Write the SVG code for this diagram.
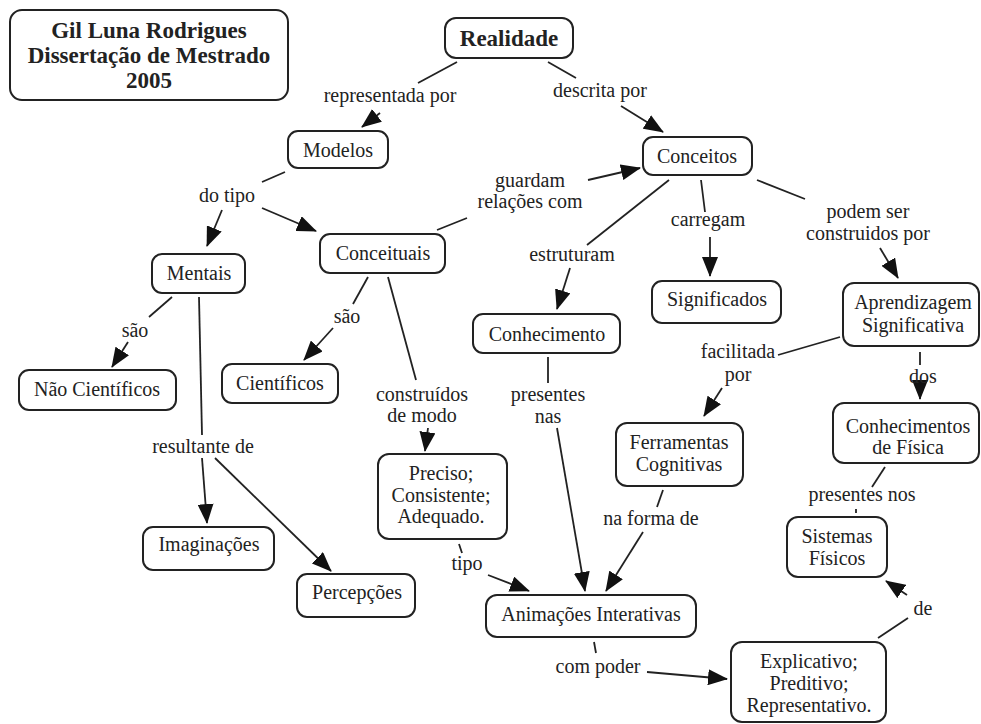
<svg xmlns="http://www.w3.org/2000/svg" width="981" height="724" viewBox="0 0 981 724">
<defs>
<marker id="ah" viewBox="0 0 20 16" refX="19" refY="8" markerWidth="20" markerHeight="16" markerUnits="userSpaceOnUse" orient="auto">
<path d="M0,0 L20,8 L0,16 Z" fill="#111"/>
</marker>
<style>
.box{fill:#fff;stroke:#222;stroke-width:2}
.t{font-family:"Liberation Serif","Times New Roman",serif;font-size:20px;fill:#222;text-anchor:middle}
.b{font-weight:bold;font-size:23px}
.c line{stroke:#222;stroke-width:1.8}
.c .a{marker-end:url(#ah)}
</style>
</defs>
<rect width="981" height="724" fill="#fff"/>
<g class="c" id="connectors">
<line x1="457" y1="62" x2="418" y2="83"/>
<line class="a" x1="380" y1="113" x2="362" y2="127"/>
<line x1="548" y1="62" x2="576" y2="78"/>
<line class="a" x1="621" y1="106" x2="663" y2="132"/>
<line x1="285" y1="172" x2="262" y2="182"/>
<line class="a" x1="222" y1="210" x2="207" y2="246"/>
<line class="a" x1="262" y1="208" x2="316" y2="231"/>
<line x1="437" y1="230" x2="467" y2="218"/>
<line class="a" x1="588" y1="180" x2="640" y2="168"/>
<line x1="669" y1="180" x2="587" y2="245"/>
<line class="a" x1="570" y1="268" x2="557" y2="309"/>
<line x1="701" y1="180" x2="705" y2="212"/>
<line class="a" x1="710" y1="237" x2="710" y2="276"/>
<line x1="757" y1="180" x2="805" y2="199"/>
<line class="a" x1="880" y1="248" x2="898" y2="278"/>
<line x1="172" y1="297" x2="149" y2="317"/>
<line class="a" x1="128" y1="342" x2="112" y2="367"/>
<line x1="199" y1="297" x2="202" y2="435"/>
<line class="a" x1="202" y1="458" x2="207" y2="523"/>
<line class="a" x1="215" y1="458" x2="331" y2="571"/>
<line x1="368" y1="277" x2="353" y2="304"/>
<line class="a" x1="333" y1="328" x2="304" y2="360"/>
<line x1="388" y1="277" x2="416" y2="380"/>
<line class="a" x1="428" y1="428" x2="425" y2="451"/>
<line x1="459" y1="544" x2="462" y2="553"/>
<line class="a" x1="488" y1="575" x2="529" y2="591"/>
<line x1="548" y1="357" x2="548" y2="383"/>
<line class="a" x1="557" y1="428" x2="585" y2="591"/>
<line x1="840" y1="337" x2="778" y2="355"/>
<line class="a" x1="722" y1="388" x2="704" y2="416"/>
<line x1="920" y1="352" x2="920" y2="365"/>
<line class="a" x1="920" y1="384" x2="920" y2="399"/>
<line x1="885" y1="467" x2="872" y2="487"/>
<line x1="856" y1="509" x2="856" y2="513"/>
<line x1="663" y1="490" x2="657" y2="507"/>
<line class="a" x1="643" y1="532" x2="606" y2="591"/>
<line x1="594" y1="642" x2="596" y2="653"/>
<line class="a" x1="647" y1="672" x2="727" y2="679"/>
<line x1="878" y1="638" x2="908" y2="618"/>
<line class="a" x1="907" y1="595" x2="886" y2="581"/>
</g>
<g id="labels" class="t">
<text x="390" y="102">representada por</text>
<text x="600" y="97">descrita por</text>
<text x="227" y="202">do tipo</text>
<text x="530" y="187">guardam</text>
<text x="530" y="208">relações com</text>
<text x="572" y="261">estruturam</text>
<text x="708" y="226">carregam</text>
<text x="868" y="218">podem ser</text>
<text x="868" y="240">construidos por</text>
<text x="135" y="337">são</text>
<text x="203" y="453">resultante de</text>
<text x="347" y="323">são</text>
<text x="422" y="401">construídos</text>
<text x="422" y="422">de modo</text>
<text x="467" y="570">tipo</text>
<text x="548" y="401">presentes</text>
<text x="548" y="423">nas</text>
<text x="738" y="358">facilitada</text>
<text x="738" y="381">por</text>
<text x="923" y="383">dos</text>
<text x="862" y="501">presentes nos</text>
<text x="651" y="525">na forma de</text>
<text x="598" y="673">com poder</text>
<text x="923" y="615">de</text>
</g>
<g id="title"><rect class="box" x="10" y="10" width="278" height="90" rx="12"/>
<text class="t b" x="149" y="38">Gil Luna Rodrigues</text>
<text class="t b" x="149" y="63">Dissertação de Mestrado</text>
<text class="t b" x="149" y="88">2005</text></g>
<g id="realidade"><rect class="box" x="445" y="18" width="128" height="40" rx="11"/><text class="t b" x="509" y="46">Realidade</text></g>
<g id="modelos"><rect class="box" x="288" y="131" width="100" height="37" rx="10"/><text class="t" x="338" y="157">Modelos</text></g>
<g id="conceitos"><rect class="box" x="643" y="137" width="109" height="38" rx="10"/><text class="t" x="697" y="163">Conceitos</text></g>
<g id="conceituais"><rect class="box" x="320" y="234" width="125" height="39" rx="10"/><text class="t" x="383" y="260">Conceituais</text></g>
<g id="mentais"><rect class="box" x="152" y="254" width="93" height="39" rx="10"/><text class="t" x="199" y="280">Mentais</text></g>
<g id="nao-cientificos"><rect class="box" x="19" y="370" width="157" height="40" rx="10"/><text class="t" x="97" y="396">Não Científicos</text></g>
<g id="cientificos"><rect class="box" x="222" y="364" width="116" height="39" rx="10"/><text class="t" x="280" y="390">Científicos</text></g>
<g id="imaginacoes"><rect class="box" x="143" y="527" width="131" height="43" rx="10"/><text class="t" x="209" y="551">Imaginações</text></g>
<g id="percepcoes"><rect class="box" x="297" y="574" width="118" height="43" rx="10"/><text class="t" x="357" y="599">Percepções</text></g>
<g id="preciso"><rect class="box" x="378" y="454" width="129" height="85" rx="11"/>
<text class="t" x="441" y="480">Preciso;</text><text class="t" x="441" y="502">Consistente;</text><text class="t" x="441" y="523">Adequado.</text></g>
<g id="animacoes"><rect class="box" x="486" y="595" width="210" height="42" rx="11"/><text class="t" x="591" y="621">Animações Interativas</text></g>
<g id="conhecimento"><rect class="box" x="473" y="314" width="147" height="39" rx="10"/><text class="t" x="547" y="341">Conhecimento</text></g>
<g id="significados"><rect class="box" x="652" y="281" width="129" height="42" rx="10"/><text class="t" x="717" y="306">Significados</text></g>
<g id="aprendizagem"><rect class="box" x="843" y="283" width="136" height="63" rx="11"/>
<text class="t" x="913" y="309">Aprendizagem</text><text class="t" x="913" y="332">Significativa</text></g>
<g id="ferramentas"><rect class="box" x="616" y="423" width="127" height="63" rx="11"/>
<text class="t" x="679" y="449">Ferramentas</text><text class="t" x="679" y="471">Cognitivas</text></g>
<g id="conhecimentos-fisica"><rect class="box" x="833" y="403" width="146" height="60" rx="11"/>
<text class="t" x="908" y="433">Conhecimentos</text><text class="t" x="908" y="454">de Física</text></g>
<g id="sistemas"><rect class="box" x="787" y="517" width="100" height="60" rx="11"/>
<text class="t" x="837" y="543">Sistemas</text><text class="t" x="837" y="565">Físicos</text></g>
<g id="explicativo"><rect class="box" x="731" y="642" width="155" height="80" rx="11"/>
<text class="t" x="809" y="668">Explicativo;</text><text class="t" x="809" y="690">Preditivo;</text><text class="t" x="809" y="712">Representativo.</text></g>
</svg>
